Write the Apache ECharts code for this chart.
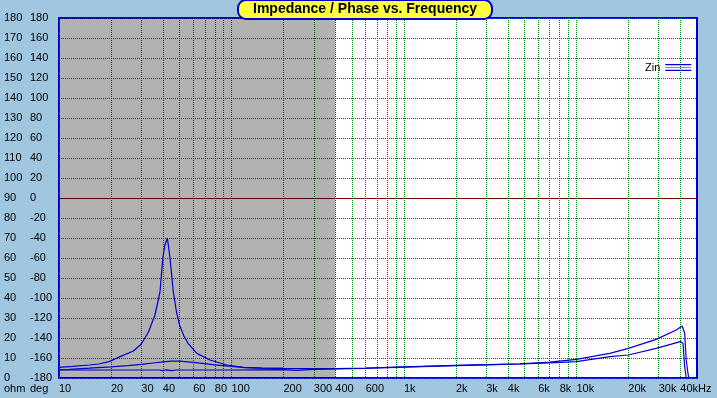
<!DOCTYPE html>
<html>
<head>
<meta charset="utf-8">
<script src="https://cdn.jsdelivr.net/npm/echarts@6/dist/echarts.min.js"></script>
<style>
html,body{margin:0;padding:0;background:#a0c6e0;}
#chart{width:717px;height:398px;}
</style>
</head>
<body>
<div id="chart"></div>
<script>
// Frequency tick labels (Hz) and their texts
const labelFreqs = [10,20,30,40,60,80,100,200,300,400,600,1000,2000,3000,4000,6000,8000,10000,20000,30000,40000];
const labelTexts = ['10','20','30','40','60','80','100','200','300','400','600','1k','2k','3k','4k','6k','8k','10k','20k','30k','40kHz'];
// Vertical grid line frequencies (Hz)
const gridFreqs = [10,20,30,40,50,60,70,80,90,100,200,300,400,500,600,700,800,900,1000,2000,3000,4000,5000,6000,7000,8000,9000,10000,20000,30000,40000];
// Impedance curve with resonance peak (ohm)
const freqA = [10,12,15,17,19.5,22.6,27,30,33,36,38.5,40,41,42.5,44,46,48,50,53,56,63,75,94,117,150,200,300,400,600,1000,2000,3000,4700,7000,10000,15600,20000,29000,37900,41000,42400,43300,44300,44800];
const zinA  = [5.3,5.8,6.5,7.0,8.2,10.7,13.5,17,23,31.5,43,60,66,70,60,43,33,26.5,21,17.3,12.3,9,6.5,5.3,4.9,4.8,4.7,4.7,5.0,5.6,6.3,6.7,7.1,7.9,9.3,12.3,14.8,19.3,24,26,22.5,9,2.5,0];
// Hump curve (ohm)
const freqB = [10,11.5,15,20,25,30,35,40,45,50,60,70,80,100,120,150,200];
const zinB  = [4.2,4.3,4.9,5.6,6.2,6.8,7.5,8.1,8.4,8.4,7.8,7.2,6.6,5.8,5.2,4.9,4.8];
// Low flat curve (ohm)
const freqC = [10,20,30,38,40,42,45,48,60,100,200,240,300,400,600,1000,2000,3000,4700,7000,10000,15600,20000,29000,40000,40800,41500,42400,43300];
const zinC  = [4.0,4.0,4.0,4.0,3.7,4.1,3.7,4.0,4.0,4.0,4.2,3.8,4.3,4.5,4.8,5.4,6.2,6.6,7.0,7.6,8.2,10.7,11.5,14.8,18.2,18.7,17.3,5.7,0];
// Y axis settings
const ohmMin = 0, ohmMax = 180, ohmStep = 10;
const degMin = -180, degMax = 180, degStep = 20;

const L = Math.log10;
const toPts = (fs, vs) => fs.map((f, i) => [L(f), vs[i]]);
const lineColor = '#0000cc';
const font = 'Liberation Sans, Arial, sans-serif';

const chart = echarts.init(document.getElementById('chart'));
chart.setOption({
  backgroundColor: '#a0c6e0',
  animation: false,
  title: {
    text: 'Impedance / Phase vs. Frequency',
    left: 238, top: 0,
    backgroundColor: '#ffff40',
    borderColor: '#0000cc', borderWidth: 2, borderRadius: 8,
    padding: [2, 15, 2, 15],
    textStyle: { fontFamily: font, fontSize: 14, fontWeight: 'bold', color: '#000', lineHeight: 15 }
  },
  legend: {
    data: ['Zin'],
    left: 645, top: 62,
    align: 'right',
    itemWidth: 26, itemHeight: 7, padding: 0,
    icon: 'path://M0,0H26V1.3H0Z M0,3.2H26V3.8H0Z M0,5.7H26V7H0Z',
    textStyle: { fontFamily: font, fontSize: 11, color: '#000' }
  },
  grid: {
    left: 59, right: 20, top: 18, bottom: 20,
    show: true, backgroundColor: '#ffffff',
    borderColor: '#0000cc', borderWidth: 2
  },
  xAxis: {
    type: 'value', min: 1, max: L(50000),
    axisLine: { show: false },
    axisTick: { show: false, customValues: gridFreqs.map(L) },
    splitLine: { show: true, lineStyle: { color: '#008000', type: [1, 1], width: 1 } },
    axisLabel: {
      customValues: labelFreqs.map(L),
      align: 'left', margin: 5,
      fontFamily: font, fontSize: 11, color: '#000',
      formatter: function (v) {
        for (let i = 0; i < labelFreqs.length; i++) {
          if (Math.abs(L(labelFreqs[i]) - v) < 1e-6) return labelTexts[i];
        }
        return '';
      }
    }
  },
  yAxis: [
    {
      type: 'value', min: ohmMin, max: ohmMax, interval: ohmStep, position: 'left',
      axisLine: { show: false }, axisTick: { show: false },
      splitLine: { show: true, lineStyle: { color: '#008000', type: [1, 1], width: 1 } },
      axisLabel: { align: 'left', margin: 55, fontFamily: font, fontSize: 11, color: '#000' }
    },
    {
      type: 'value', min: degMin, max: degMax, interval: degStep, position: 'left',
      axisLine: { show: false }, axisTick: { show: false }, splitLine: { show: false },
      axisLabel: { align: 'left', margin: 29, fontFamily: font, fontSize: 11, color: '#000' }
    },
    {
      // 0 deg reference line
      type: 'value', min: -1, max: 1, interval: 1, position: 'right',
      axisLine: { show: false }, axisTick: { show: false }, axisLabel: { show: false },
      splitLine: { show: true, showMinLine: false, showMaxLine: false,
        lineStyle: { color: '#800000', type: 'solid', width: 1 } }
    }
  ],
  series: [
    { name: 'Zin', type: 'line', data: toPts(freqA, zinA), showSymbol: false, symbol: 'none',
      lineStyle: { color: lineColor, width: 1.2 }, itemStyle: { color: lineColor }, z: 3 },
    { name: 'Zin B', type: 'line', data: toPts(freqB, zinB), showSymbol: false, symbol: 'none',
      lineStyle: { color: lineColor, width: 1.2 }, itemStyle: { color: lineColor }, z: 3 },
    { name: 'Zin C', type: 'line', data: toPts(freqC, zinC), showSymbol: false, symbol: 'none',
      lineStyle: { color: lineColor, width: 1.2 }, itemStyle: { color: lineColor }, z: 3 },
    { name: 'shade', type: 'line', data: [], z: 10, silent: true,
      markArea: { silent: true, itemStyle: { color: 'rgba(0,0,0,0.3)' },
        data: [[{ xAxis: L(10) }, { xAxis: L(400) }]] } }
  ],
  graphic: [
    { type: 'text', left: 4, top: 383, style: { text: 'ohm', font: '11px ' + font, fill: '#000' } },
    { type: 'text', left: 30, top: 383, style: { text: 'deg', font: '11px ' + font, fill: '#000' } }
  ]
});
</script>
</body>
</html>
